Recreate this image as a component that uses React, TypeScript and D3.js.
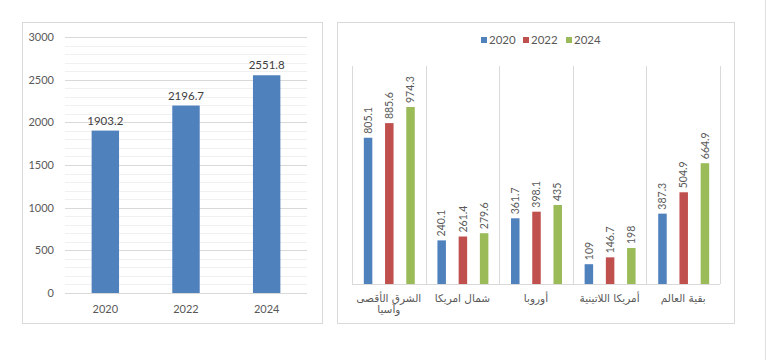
import React from "react";
import * as d3 from "d3";

const years = ["2020", "2022", "2024"];
const totals = [1903.2, 2196.7, 2551.8];
const yTicksLeft = [0, 500, 1000, 1500, 2000, 2500, 3000];

const regions = [
  ["الشرق الأقصى", "وآسيا"],
  ["شمال امريكا"],
  ["أوروبا"],
  ["أمريكا اللاتينية"],
  ["بقية العالم"],
];
const v2020 = [805.1, 240.1, 361.7, 109, 387.3];
const v2022 = [885.6, 261.4, 398.1, 146.7, 504.9];
const v2024 = [974.3, 279.6, 435, 198, 664.9];
const seriesValues = [v2020, v2022, v2024];
const colors = ["#4F81BD", "#C0504D", "#9BBB59"];

const FONT = "Lato, 'Open Sans', sans-serif";
const AR_FONT = "'DejaVu Sans', sans-serif";
const TXT = "#595959";

export default function App() {
  // Left chart
  const lx = d3.scaleBand().domain(years).range([65, 307]).paddingInner(0.66).paddingOuter(0.33);
  const ly = d3.scaleLinear().domain([0, 3000]).range([293, 37]);
  const minorTicks = d3.range(0, 3001, 100);

  // Right chart
  const rx = d3.scaleBand().domain(regions.map((r) => r.join(" "))).range([352, 720]);
  const ry = d3.scaleLinear().domain([0, 1200]).range([284, 66]);
  const inner = d3.scaleBand().domain(years).range([-22, 23]).paddingInner(0.88).paddingOuter(0);
  const barW = 8.5;

  return (
    <svg width={768} height={360} style={{ position: "absolute", left: 0, top: 0, background: "#fff" }}>
      <rect x={0} y={0} width={768} height={360} fill="#fff" />
      <line x1={765.5} x2={765.5} y1={0} y2={360} stroke="#E0E0E0" />
      {/* Left panel */}
      <rect x={22.5} y={22.5} width={300} height={301} fill="#fff" stroke="#D9D9D9" />
      {minorTicks.map((t) => (
        <line key={"m" + t} x1={65} x2={307} y1={Math.round(ly(t)) + 0.5} y2={Math.round(ly(t)) + 0.5}
          stroke={t % 500 === 0 ? "#D9D9D9" : "#F0F0F0"} strokeWidth={1} />
      ))}
      {yTicksLeft.map((t) => (
        <text key={"yt" + t} x={54} y={ly(t)} dy="0.35em" textAnchor="end" fontFamily={FONT} fontSize={11} fill={TXT}>
          {t}
        </text>
      ))}
      {years.map((y, i) => (
        <g key={"lb" + y}>
          <rect x={lx(y)} y={ly(totals[i])} width={lx.bandwidth()} height={ly(0) - ly(totals[i])} fill="#4F81BD" />
          <text x={lx(y)! + lx.bandwidth() / 2} y={ly(totals[i]) - 6} textAnchor="middle" fontFamily={FONT} fontSize={11.5} fill="#404040">
            {totals[i]}
          </text>
          <text x={lx(y)! + lx.bandwidth() / 2} y={313} textAnchor="middle" fontFamily={FONT} fontSize={11} fill={TXT}>
            {y}
          </text>
        </g>
      ))}

      {/* Right panel */}
      <rect x={337.5} y={22.5} width={397} height={301} fill="#fff" stroke="#D9D9D9" />
      {years.map((y, i) => {
        const lxs = [481, 523, 566];
        return (
          <g key={"lg" + y}>
            <rect x={lxs[i]} y={37} width={6} height={6} fill={colors[i]} />
            <text x={lxs[i] + 8} y={40} dy="0.35em" fontFamily={FONT} fontSize={11.5} fill={TXT}>{y}</text>
          </g>
        );
      })}
      {d3.range(regions.length + 1).map((k) => {
        const x = k < regions.length ? rx(rx.domain()[k])! : rx.range()[1];
        return <line key={"v" + k} x1={Math.round(x) + 0.5} x2={Math.round(x) + 0.5} y1={66} y2={284} stroke="#D9D9D9" />;
      })}
      <line x1={352} x2={720} y1={284.5} y2={284.5} stroke="#D9D9D9" />
      {regions.map((r, ci) => {
        const key = r.join(" ");
        const cx = rx(key)! + rx.bandwidth() / 2;
        return (
          <g key={"c" + ci}>
            {years.map((y, si) => {
              const v = seriesValues[si][ci];
              const bx = cx + inner(y)! + inner.bandwidth() / 2 - barW / 2;
              const top = ry(v);
              return (
                <g key={"b" + si}>
                  <rect x={bx} y={top} width={barW} height={ry(0) - top} fill={colors[si]} />
                  <text transform={`translate(${bx + barW / 2},${top - 4}) rotate(-90)`} dy="0.35em"
                    fontFamily={FONT} fontSize={10.5} fill={TXT}>{v}</text>
                </g>
              );
            })}
            {r.map((line, li) => (
              <text key={"l" + li} x={cx} y={302 + li * 11} textAnchor="middle" fontFamily={AR_FONT}
                fontSize={10.5} letterSpacing={1.8} fill={TXT} direction="rtl">{line}</text>
            ))}
          </g>
        );
      })}
    </svg>
  );
}
